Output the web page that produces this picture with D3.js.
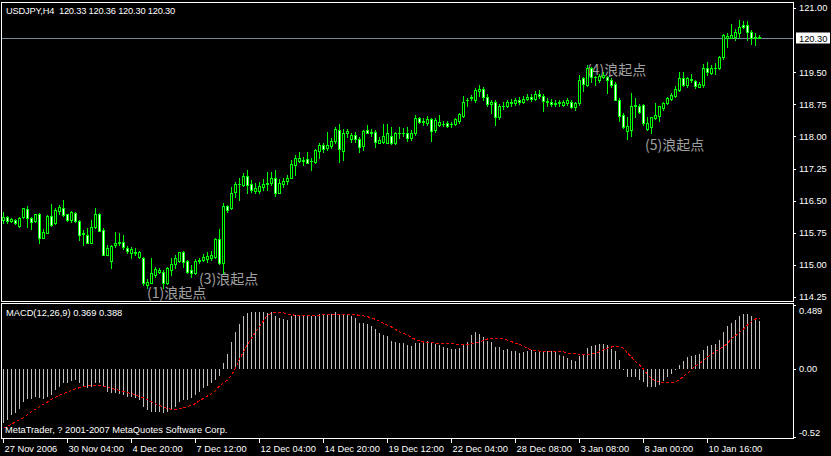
<!DOCTYPE html>
<html>
<head>
<meta charset="utf-8">
<script src="https://cdn.jsdelivr.net/npm/d3@7"></script>
<style>
  html, body { margin: 0; padding: 0; background: #000; }
  svg { display: block; }
  text { font-family: "Liberation Sans", Arial, sans-serif; }
</style>
</head>
<body>
<svg id="chart" width="831" height="456"></svg>
<script>
// ---- USDJPY H4 quotes, one entry per 4-hour bar ----
const opens = [
116.06,116.13,116.03,116.06,115.91,116.11,116.30,116.09,116.03,116.19,
115.63,115.75,116.14,115.97,116.27,116.32,116.18,116.05,116.22,116.03,
115.72,115.70,115.52,115.88,116.19,115.81,115.24,115.10,115.46,115.52,
115.54,115.39,115.27,115.31,115.19,115.17,114.53,114.58,114.76,114.84,
114.84,114.57,114.89,115.02,115.10,115.31,115.09,114.88,114.80,115.10,
115.11,115.13,115.15,115.19,115.60,115.04,116.37,116.32,116.71,116.90,
116.86,117.08,116.88,116.72,116.73,116.83,116.89,116.92,117.04,116.69,
116.89,116.96,117.04,117.33,117.43,117.42,117.47,117.42,117.41,117.67,
117.80,117.72,117.78,117.90,118.15,117.67,118.07,117.93,118.03,117.93,
117.78,118.15,118.07,118.11,117.85,117.88,117.85,118.01,117.85,118.09,
118.08,118.07,117.96,118.07,118.42,118.34,118.31,118.40,118.15,118.27,
118.30,118.32,118.28,118.29,118.37,118.48,118.84,118.90,118.85,119.05,
119.10,118.92,118.75,118.80,118.45,118.70,118.72,118.80,118.78,118.85,
118.80,118.88,118.92,118.88,118.98,118.95,118.82,118.80,118.75,118.78,
118.73,118.79,118.81,118.68,118.79,119.36,119.20,119.59,119.39,119.32,
119.38,119.40,119.32,119.22,118.85,118.50,118.13,118.15,118.70,118.71,
118.73,118.17,118.21,118.42,118.48,118.66,118.79,118.87,118.94,119.08,
119.36,119.20,119.34,119.30,119.16,119.20,119.61,119.49,119.59,119.59,
119.85,120.30,120.31,120.33,120.41,120.61,120.61,120.45,120.31,120.33
];
const highs = [
116.24,116.14,116.10,116.08,116.11,116.34,116.37,116.11,116.20,116.22,
115.83,116.16,116.42,116.32,116.40,116.51,116.20,116.27,116.24,116.06,
115.81,115.85,116.05,116.32,116.22,115.85,115.46,115.46,115.77,115.75,
115.70,115.44,115.41,115.39,115.33,115.19,114.68,115.15,114.94,114.92,
114.88,114.94,115.15,115.23,115.31,115.32,115.11,115.00,115.13,115.17,
115.25,115.31,115.33,115.62,115.83,116.44,116.40,116.81,116.94,117.04,
117.14,117.22,116.98,116.92,116.94,117.00,117.16,117.18,117.22,117.00,
117.02,117.10,117.45,117.57,117.64,117.53,117.64,117.49,117.70,117.84,
117.84,118.11,117.96,118.23,118.29,118.17,118.17,118.09,118.11,117.98,
118.15,118.27,118.17,118.15,117.99,118.29,118.29,118.21,118.11,118.23,
118.19,118.21,118.15,118.50,118.46,118.42,118.48,118.44,118.42,118.50,
118.37,118.37,118.34,118.42,118.55,118.94,118.89,118.97,119.13,119.20,
119.15,118.98,118.85,118.85,118.75,118.80,118.85,118.88,118.90,118.92,
118.95,118.98,119.00,119.05,119.08,119.00,118.90,118.88,118.85,118.85,
118.85,118.89,118.85,118.81,119.43,119.40,119.67,119.63,119.41,119.46,
119.51,119.41,119.36,119.26,118.89,118.54,118.46,119.02,118.89,118.76,
118.76,118.46,118.46,118.79,118.71,118.81,118.93,119.02,119.18,119.51,
119.51,119.40,119.47,119.33,119.28,119.69,119.75,119.67,119.71,119.88,
120.39,120.41,120.63,120.50,120.72,120.70,120.70,120.49,120.41,120.36
];
const lows = [
115.97,115.99,116.01,115.95,115.88,116.09,115.88,115.83,116.01,115.52,
115.62,115.74,115.91,115.95,116.20,116.14,116.03,116.01,116.01,115.58,
115.46,115.50,115.50,115.85,115.78,115.23,115.23,114.92,115.41,115.46,
115.36,115.27,115.15,115.23,115.15,114.54,114.45,114.57,114.72,114.80,
114.45,114.55,114.76,114.92,115.07,114.96,114.82,114.71,114.79,115.04,
115.10,115.07,115.11,115.15,115.01,114.80,116.24,116.30,116.59,116.51,
116.84,116.67,116.71,116.67,116.67,116.75,116.75,116.86,116.61,116.67,
116.81,116.89,117.02,117.10,117.41,117.33,117.37,117.22,117.39,117.49,
117.64,117.68,117.74,117.84,117.41,117.46,117.99,117.88,117.88,117.64,
117.68,118.07,118.01,117.76,117.84,117.84,117.84,117.82,117.82,117.96,
118.01,117.90,117.92,118.03,118.31,118.27,118.27,117.90,118.11,118.24,
118.24,118.21,118.23,118.27,118.31,118.46,118.70,118.85,118.81,118.95,
118.85,118.70,118.55,118.27,118.40,118.65,118.68,118.72,118.74,118.76,
118.78,118.84,118.82,118.85,118.90,118.60,118.72,118.70,118.70,118.72,
118.70,118.73,118.66,118.62,118.73,119.05,119.18,119.28,119.20,119.28,
119.36,119.02,119.16,118.84,118.35,118.19,117.95,118.01,118.46,118.54,
118.27,118.15,118.07,118.40,118.35,118.62,118.76,118.85,118.93,119.07,
119.18,119.16,119.28,119.12,119.15,119.15,119.43,119.47,119.47,119.57,
119.82,120.08,120.29,120.25,120.29,120.53,120.25,120.17,120.14,120.30
];
const closes = [
116.11,116.03,116.08,115.97,116.09,116.32,116.09,116.01,116.19,115.62,
115.77,116.14,115.93,116.28,116.36,116.16,116.06,116.24,116.03,115.69,
115.74,115.52,115.88,116.20,115.80,115.24,115.39,115.44,115.52,115.53,
115.41,115.33,115.36,115.27,115.31,114.57,114.61,114.82,114.90,114.89,
114.57,114.92,115.02,115.15,115.29,115.07,114.84,114.82,115.10,115.11,
115.19,115.21,115.23,115.60,115.04,116.37,116.28,116.68,116.90,116.88,
117.08,116.86,116.75,116.79,116.84,116.89,116.91,117.04,116.69,116.92,
116.97,117.04,117.36,117.49,117.49,117.46,117.39,117.43,117.68,117.80,
117.70,117.80,117.90,118.17,117.70,118.07,118.13,118.03,117.93,117.76,
118.13,118.09,118.11,117.88,117.92,118.01,118.09,117.85,118.09,118.08,
118.09,117.96,118.09,118.42,118.34,118.35,118.40,118.13,118.38,118.34,
118.29,118.24,118.29,118.40,118.52,118.81,118.85,118.91,119.08,119.10,
118.92,118.75,118.80,118.45,118.70,118.72,118.80,118.78,118.85,118.80,
118.88,118.92,118.88,118.98,118.95,118.82,118.80,118.75,118.78,118.80,
118.81,118.85,118.68,118.79,119.33,119.23,119.59,119.40,119.38,119.41,
119.44,119.33,119.20,118.85,118.48,118.21,118.24,118.71,118.73,118.56,
118.32,118.31,118.45,118.49,118.70,118.79,118.89,118.97,119.10,119.36,
119.20,119.36,119.33,119.18,119.22,119.61,119.51,119.59,119.60,119.85,
120.37,120.35,120.37,120.45,120.56,120.56,120.45,120.31,120.32,120.30
];

// ---- MACD(12,26,9): main line (histogram) and signal line ----
const macdMain = [
-0.415,-0.389,-0.351,-0.338,-0.308,-0.249,-0.232,-0.232,-0.211,-0.224,
-0.232,-0.211,-0.198,-0.160,-0.140,-0.109,-0.104,-0.089,-0.084,-0.104,
-0.130,-0.148,-0.140,-0.109,-0.109,-0.140,-0.173,-0.186,-0.186,-0.191,
-0.198,-0.211,-0.216,-0.224,-0.237,-0.288,-0.313,-0.326,-0.326,-0.326,
-0.338,-0.326,-0.313,-0.288,-0.249,-0.237,-0.237,-0.224,-0.198,-0.173,
-0.148,-0.130,-0.109,-0.084,-0.053,0.043,0.115,0.209,0.280,0.344,
0.405,0.425,0.433,0.433,0.433,0.433,0.425,0.433,0.405,0.387,
0.379,0.374,0.405,0.412,0.412,0.412,0.412,0.405,0.405,0.420,
0.420,0.420,0.420,0.433,0.412,0.412,0.420,0.405,0.387,0.349,
0.349,0.344,0.328,0.303,0.272,0.260,0.252,0.216,0.209,0.201,
0.201,0.183,0.176,0.201,0.201,0.201,0.214,0.201,0.188,0.183,
0.170,0.158,0.150,0.150,0.158,0.188,0.209,0.260,0.280,0.267,
0.242,0.216,0.209,0.170,0.165,0.145,0.150,0.137,0.137,0.120,
0.127,0.135,0.148,0.127,0.135,0.135,0.135,0.135,0.127,0.109,
0.097,0.084,0.071,0.064,0.102,0.117,0.160,0.173,0.186,0.193,
0.193,0.186,0.153,0.135,0.066,0.002,-0.064,-0.064,-0.064,-0.081,
-0.102,-0.140,-0.140,-0.140,-0.120,-0.094,-0.064,-0.036,-0.006,0.033,
0.059,0.092,0.102,0.109,0.117,0.148,0.173,0.186,0.193,0.224,
0.285,0.326,0.351,0.377,0.407,0.422,0.422,0.407,0.389,0.369
];
const macdSignal = [
-0.453,-0.438,-0.422,-0.405,-0.389,-0.374,-0.349,-0.328,-0.308,-0.288,
-0.270,-0.252,-0.232,-0.216,-0.201,-0.188,-0.176,-0.163,-0.153,-0.143,
-0.135,-0.130,-0.127,-0.127,-0.127,-0.132,-0.140,-0.148,-0.155,-0.163,
-0.173,-0.181,-0.188,-0.198,-0.211,-0.221,-0.234,-0.249,-0.265,-0.280,
-0.290,-0.303,-0.308,-0.308,-0.303,-0.295,-0.288,-0.277,-0.265,-0.242,
-0.226,-0.206,-0.188,-0.165,-0.130,-0.104,-0.084,-0.046,0.005,0.074,
0.132,0.188,0.234,0.280,0.323,0.369,0.410,0.427,0.433,0.433,
0.430,0.420,0.415,0.410,0.407,0.407,0.405,0.405,0.407,0.412,
0.415,0.417,0.417,0.420,0.420,0.420,0.420,0.420,0.415,0.410,
0.405,0.399,0.392,0.379,0.366,0.349,0.333,0.321,0.303,0.285,
0.272,0.260,0.239,0.226,0.214,0.206,0.204,0.201,0.198,0.196,
0.196,0.196,0.196,0.188,0.186,0.188,0.188,0.193,0.198,0.204,
0.219,0.229,0.234,0.234,0.234,0.229,0.221,0.209,0.198,0.186,
0.176,0.158,0.142,0.140,0.137,0.135,0.135,0.135,0.135,0.135,
0.130,0.122,0.120,0.115,0.107,0.107,0.109,0.115,0.122,0.130,
0.148,0.160,0.168,0.173,0.170,0.158,0.122,0.092,0.056,0.031,
0.000,-0.043,-0.074,-0.089,-0.102,-0.107,-0.107,-0.107,-0.099,-0.081,
-0.056,-0.031,-0.005,0.025,0.041,0.066,0.092,0.109,0.135,0.153,
0.170,0.198,0.232,0.254,0.280,0.305,0.336,0.364,0.382,0.388
];

// ---- axis labels ----
const timeTickBars = [0, 16, 32, 48, 64, 80, 96, 112, 128, 144, 160, 176];
const timeLabels = ["27 Nov 2006", "30 Nov 04:00", "4 Dec 20:00", "7 Dec 12:00",
  "12 Dec 04:00", "14 Dec 20:00", "19 Dec 12:00", "22 Dec 04:00",
  "28 Dec 08:00", "3 Jan 08:00", "8 Jan 00:00", "10 Jan 16:00"];
const priceTicks = [121.00, 119.50, 118.75, 118.00, 117.25, 116.50, 115.75, 115.00, 114.25];
const macdTicks = [0.489, 0, -0.52];
const macdTickLabels = ["0.489", "0.00", "-0.52"];

// ---- wave annotations: bar index, price anchor, text ----
const waveNotes = [
  { bar: 36, price: 114.23, text: "(1)浪起点" },
  { bar: 49, price: 114.55, text: "(3)浪起点" },
  { bar: 146, price: 119.43, text: "(4)浪起点" },
  { bar: 160.5, price: 117.68, text: "(5)浪起点" }
];

const symbol = "USDJPY,H4";
const n = opens.length;
const last = n - 1;

// ---- layout ----
const svg = d3.select("#chart");
const frameL = 1.5, frameR = 793.5;
const mainTop = 2.5, mainBottom = 301.5;
const subTop = 303.5, subBottom = 438.5;
const font = 9.3;
const LIME = "#00ff00";

const x = d3.scaleLinear().domain([0, last]).range([3, 3 + 4 * last]);
const y = d3.scaleLinear().domain([114.25, 121]).range([297, 8]);
const ym = d3.scaleLinear().domain([-0.52, 0.489]).range([437, 305]);

svg.append("rect").attr("width", 831).attr("height", 456).attr("fill", "#000");

const defs = svg.append("defs");
defs.append("clipPath").attr("id", "clipMain").append("rect")
  .attr("x", 2).attr("y", 3).attr("width", 791).attr("height", 298);
defs.append("clipPath").attr("id", "clipSub").append("rect")
  .attr("x", 2).attr("y", 304).attr("width", 791).attr("height", 134);

// ---- main price window ----
const gMain = svg.append("g").attr("clip-path", "url(#clipMain)");

// annotations sit behind the candles
gMain.selectAll("text.note").data(waveNotes).join("text")
  .attr("class", "note")
  .attr("x", d => x(d.bar))
  .attr("y", d => y(d.price))
  .attr("fill", "#a0a0a0")
  .style("font-family", '"Noto Sans CJK SC", sans-serif')
  .style("font-size", "14px")
  .text(d => d.text);

// bid line
gMain.append("line")
  .attr("x1", frameL).attr("x2", frameR)
  .attr("y1", Math.round(y(closes[last])) + 0.5)
  .attr("y2", Math.round(y(closes[last])) + 0.5)
  .attr("stroke", "#778899").attr("stroke-width", 1)
  .attr("shape-rendering", "crispEdges");

const bars = d3.range(n).map(i => ({ i, o: opens[i], h: highs[i], l: lows[i], c: closes[i] }));
const candle = gMain.selectAll("g.candle").data(bars).join("g")
  .attr("class", "candle")
  .attr("shape-rendering", "crispEdges");

candle.append("rect")
  .attr("x", d => x(d.i))
  .attr("y", d => Math.round(y(d.h)))
  .attr("width", 1)
  .attr("height", d => Math.round(y(d.l)) - Math.round(y(d.h)) + 1)
  .attr("fill", LIME);

candle.append("rect")
  .attr("x", d => x(d.i) - 1)
  .attr("y", d => Math.round(y(Math.max(d.o, d.c))))
  .attr("width", 3)
  .attr("height", d => Math.round(y(Math.min(d.o, d.c))) - Math.round(y(Math.max(d.o, d.c))) + 1)
  .attr("fill", LIME);

candle.filter(d => Math.round(y(Math.min(d.o, d.c))) - Math.round(y(Math.max(d.o, d.c))) >= 2)
  .append("rect")
  .attr("x", d => x(d.i))
  .attr("y", d => Math.round(y(Math.max(d.o, d.c))) + 1)
  .attr("width", 1)
  .attr("height", d => Math.round(y(Math.min(d.o, d.c))) - Math.round(y(Math.max(d.o, d.c))) - 1)
  .attr("fill", d => d.c >= d.o ? "#000" : "#fff");

// ---- MACD window ----
const gSub = svg.append("g").attr("clip-path", "url(#clipSub)");
gSub.selectAll("rect.hist").data(macdMain).join("rect")
  .attr("class", "hist")
  .attr("shape-rendering", "crispEdges")
  .attr("x", (v, i) => x(i))
  .attr("y", v => Math.round(Math.min(ym(0), ym(v))))
  .attr("width", 1)
  .attr("height", v => Math.max(1, Math.round(Math.abs(ym(v) - ym(0)))))
  .attr("fill", "#c0c0c0");

gSub.append("path")
  .datum(macdSignal)
  .attr("d", d3.line().x((v, i) => x(i) + 0.5).y(v => ym(v)))
  .attr("fill", "none")
  .attr("stroke", "#ff0000")
  .attr("stroke-width", 1)
  .attr("stroke-dasharray", "3,2")
  .attr("shape-rendering", "crispEdges");

// ---- frames ----
[[mainTop, mainBottom], [subTop, subBottom]].forEach(([t, b]) => {
  svg.append("rect")
    .attr("x", frameL).attr("y", t)
    .attr("width", frameR - frameL).attr("height", b - t)
    .attr("fill", "none").attr("stroke", "#fff").attr("stroke-width", 1)
    .attr("shape-rendering", "crispEdges");
});

// ---- axes ----
function styleAxis(g) {
  g.select(".domain").remove();
  g.selectAll(".tick line").attr("stroke", "#fff").attr("shape-rendering", "crispEdges");
  g.selectAll(".tick text").attr("fill", "#fff")
    .style("font-size", font + "px")
    .style("font-family", '"Liberation Sans", Arial, sans-serif');
}

svg.append("g")
  .attr("transform", `translate(793,0)`)
  .call(d3.axisRight(y).tickValues(priceTicks).tickSize(3).tickPadding(3)
    .tickFormat(d3.format(".2f")))
  .call(styleAxis);

svg.append("g")
  .attr("transform", `translate(793,0)`)
  .call(d3.axisRight(ym).tickValues(macdTicks).tickSize(3).tickPadding(3)
    .tickFormat((d, i) => macdTickLabels[i]))
  .call(styleAxis)
  .call(g => g.selectAll(".tick text")
    .attr("dy", (d, i) => i === 0 ? "0.95em" : i === 2 ? "-0.15em" : "0.32em"));

svg.append("g")
  .attr("transform", `translate(0,438)`)
  .call(d3.axisBottom(x).tickValues(timeTickBars).tickSize(5).tickPadding(2)
    .tickFormat((d, i) => timeLabels[i]))
  .call(styleAxis)
  .call(g => g.selectAll(".tick text").attr("text-anchor", "start").attr("x", 1));

// current price marker
const yLast = Math.round(y(closes[last])) + 0.5;
svg.append("rect")
  .attr("x", 796).attr("y", yLast - 6)
  .attr("width", 34).attr("height", 11)
  .attr("fill", "#fff");
svg.append("text")
  .attr("x", 799).attr("y", yLast)
  .attr("dy", "0.34em")
  .attr("fill", "#000")
  .style("font-size", font + "px")
  .text(d3.format(".2f")(closes[last]));

// ---- captions ----
const fmt2 = d3.format(".2f"), fmt3 = d3.format(".3f");
svg.append("text").attr("x", 6).attr("y", 14).attr("fill", "#fff")
  .style("font-size", font + "px")
  .style("letter-spacing", "-0.2px")
  .attr("xml:space", "preserve")
  .text(`${symbol}  ${fmt2(opens[last])} ${fmt2(highs[last])} ${fmt2(lows[last])} ${fmt2(closes[last])}`);

svg.append("text").attr("x", 6).attr("y", 316).attr("fill", "#fff")
  .style("font-size", font + "px")
  .text(`MACD(12,26,9) ${fmt3(macdMain[last])} ${fmt3(macdSignal[last])}`);

svg.append("text").attr("x", 5).attr("y", 433).attr("fill", "#fff")
  .style("font-size", font + "px")
  .text("MetaTrader, ? 2001-2007 MetaQuotes Software Corp.");
</script>
</body>
</html>
